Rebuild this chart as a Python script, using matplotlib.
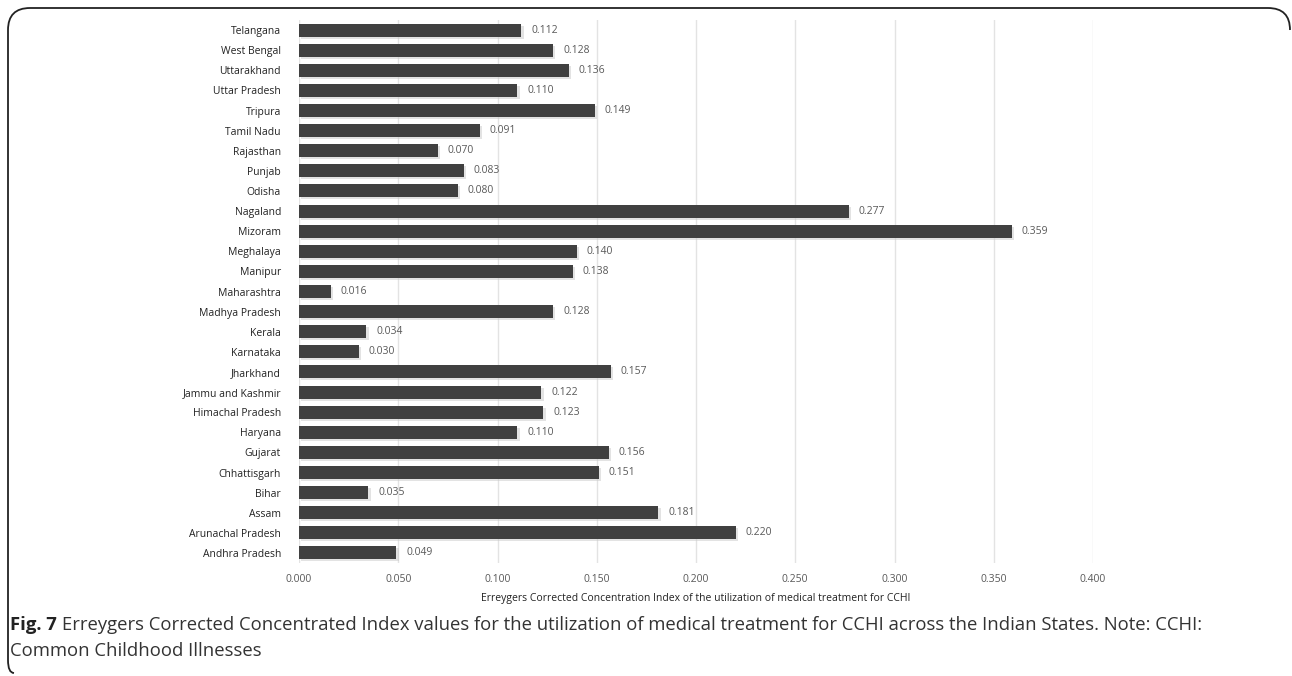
import matplotlib.pyplot as plt
import matplotlib.patches as mpatches
from matplotlib.path import Path

# Estados (de baixo para cima) e valores do índice
states = ["Andhra Pradesh", "Arunachal Pradesh", "Assam", "Bihar", "Chhattisgarh",
          "Gujarat", "Haryana", "Himachal Pradesh", "Jammu and Kashmir", "Jharkhand",
          "Karnataka", "Kerala", "Madhya Pradesh", "Maharashtra", "Manipur",
          "Meghalaya", "Mizoram", "Nagaland", "Odisha", "Punjab", "Rajasthan",
          "Tamil Nadu", "Tripura", "Uttar Pradesh", "Uttarakhand", "West Bengal",
          "Telangana"]
values = [0.049, 0.220, 0.181, 0.035, 0.151, 0.156, 0.110, 0.123, 0.122, 0.157,
          0.030, 0.034, 0.128, 0.016, 0.138, 0.140, 0.359, 0.277, 0.080, 0.083,
          0.070, 0.091, 0.149, 0.110, 0.136, 0.128, 0.112]
xticks = [0.0, 0.05, 0.1, 0.15, 0.2, 0.25, 0.3, 0.35, 0.4]

W, H = 1292, 676
fig = plt.figure(figsize=(W / 100, H / 100), dpi=100)
fig.patch.set_facecolor("white")

ax = fig.add_axes([299 / W, 1 - 563 / H, (1093 - 299) / W, (563 - 20) / H])
ypos = list(range(len(states)))

# sombra leve atrás das barras
ax.barh([y - 0.1 for y in ypos], values, height=0.65, left=0.0012,
        color="#c8c8c8", alpha=0.5, zorder=2)
ax.barh(ypos, values, height=0.65, color="#404040", zorder=3)

for y, v in zip(ypos, values):
    ax.text(v + 0.005, y, f"{v:.3f}", va="center", ha="left",
            fontsize=7.5, color="#595959", family="Open Sans")

ax.set_xlim(0, 0.4)
ax.set_ylim(-0.5, len(states) - 0.5)
ax.set_yticks(ypos)
ax.set_yticklabels(states, fontsize=7.5, family="Open Sans", color="#222222")
ax.set_xticks(xticks)
ax.set_xticklabels([f"{t:.3f}" for t in xticks], fontsize=7.5,
                   family="Open Sans", color="#595959")
ax.tick_params(axis="y", length=0, pad=13)
ax.tick_params(axis="x", length=0, pad=8)
ax.xaxis.grid(True, color="#e3e3e3", linewidth=1, zorder=0)
ax.set_axisbelow(True)
for s in ax.spines.values():
    s.set_visible(False)
ax.set_xlabel("Erreygers Corrected Concentration Index of the utilization of medical treatment for CCHI",
              fontsize=7.5, family="Open Sans", color="#222222", labelpad=6)

# borda arredondada parcial
pts = [(1290, 30), (1290, 8), (1268, 8), (30, 8), (8, 8), (8, 30),
       (8, 660), (8, 673), (14, 673)]
codes = [Path.MOVETO, Path.CURVE3, Path.CURVE3, Path.LINETO, Path.CURVE3,
         Path.CURVE3, Path.LINETO, Path.CURVE3, Path.CURVE3]
pts_f = [(x / W, 1 - y / H) for x, y in pts]
border = mpatches.PathPatch(Path(pts_f, codes), transform=fig.transFigure,
                            fill=False, edgecolor="#222222", linewidth=1.3)
fig.patches.append(border)

# legenda da figura
fs = 13.3
t1 = fig.text(10 / W, 1 - 625 / H, "Fig. 7", fontsize=fs, va="center",
              ha="left", family="Open Sans", fontweight="bold", color="#222222")
fig.canvas.draw()
bb = t1.get_window_extent()
fig.text((bb.x1 + 5) / W, 1 - 625 / H,
         "Erreygers Corrected Concentrated Index values for the utilization of medical treatment for CCHI across the Indian States. Note: CCHI:",
         fontsize=fs, va="center", ha="left", family="Open Sans", color="#333333")
fig.text(10 / W, 1 - 651 / H, "Common Childhood Illnesses", fontsize=fs,
         va="center", ha="left", family="Open Sans", color="#333333")

fig.savefig("out.png", dpi=100)
